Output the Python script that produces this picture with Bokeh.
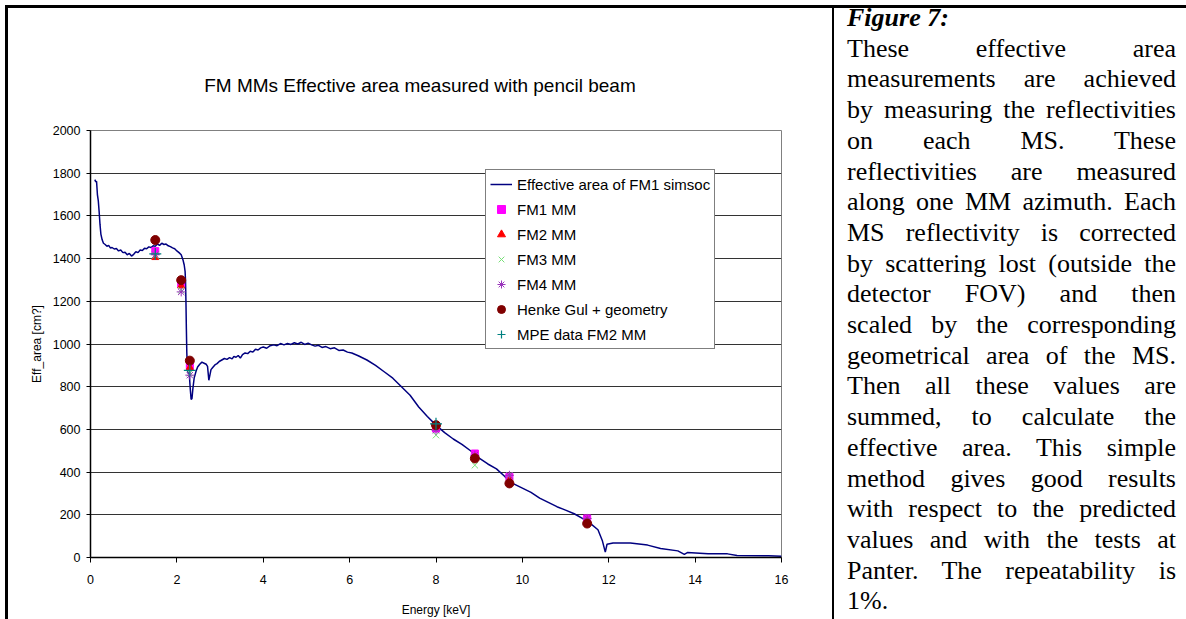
from bokeh.plotting import figure
from bokeh.models import Range1d, FixedTicker, Div
from bokeh.layouts import row, column
from bokeh.embed import file_html
from bokeh.resources import INLINE

TITLE = "FM MMs Effective area measured with pencil beam"
X_LABEL = "Energy [keV]"
Y_LABEL = "Eff_area [cm?]"
x_ticks = [0, 2, 4, 6, 8, 10, 12, 14, 16]
y_ticks = [0, 200, 400, 600, 800, 1000, 1200, 1400, 1600, 1800, 2000]

# Simulated effective area of FM1 (simsoc)
energy_kev = [
    0.10, 0.12, 0.14, 0.16, 0.18, 0.20, 0.22, 0.24, 0.27, 0.30,
    0.34, 0.38, 0.42, 0.46, 0.50, 0.55, 0.60, 0.65, 0.70, 0.75,
    0.80, 0.85, 0.90, 0.95, 1.00, 1.05, 1.10, 1.15, 1.20, 1.25,
    1.30, 1.35, 1.40, 1.45, 1.50, 1.55, 1.60, 1.65, 1.70, 1.75,
    1.80, 1.85, 1.90, 1.95, 2.00, 2.05, 2.10, 2.14, 2.17, 2.19,
    2.20, 2.21, 2.22, 2.23, 2.24, 2.25, 2.27, 2.29, 2.31, 2.33,
    2.35, 2.37, 2.40, 2.44, 2.48, 2.53, 2.58, 2.63, 2.68, 2.71,
    2.74, 2.76, 2.79, 2.83, 2.88, 2.93, 2.98, 3.04, 3.10, 3.16,
    3.22, 3.28, 3.32, 3.37, 3.42, 3.47, 3.52, 3.58, 3.64, 3.70,
    3.76, 3.82, 3.88, 3.94, 4.00, 4.08, 4.16, 4.24, 4.32, 4.40,
    4.48, 4.56, 4.64, 4.72, 4.80, 4.88, 4.96, 5.04, 5.12, 5.20,
    5.28, 5.36, 5.45, 5.55, 5.65, 5.75, 5.85, 5.95, 6.05, 6.20,
    6.40, 6.60, 6.80, 7.00, 7.20, 7.40, 7.60, 7.80, 8.00, 8.20,
    8.40, 8.60, 8.80, 9.00, 9.20, 9.40, 9.60, 9.80, 10.00, 10.20,
    10.40, 10.60, 10.80, 11.00, 11.20, 11.40, 11.60, 11.75, 11.85, 11.92,
    11.96, 12.10, 12.50, 12.90, 13.20, 13.60, 13.75, 13.82, 14.30, 14.75,
    14.97, 15.70, 16.00,
]
eff_area_simsoc = [
    1770, 1760, 1762, 1700, 1672, 1620, 1560, 1515, 1488, 1472,
    1466, 1458, 1462, 1450, 1452, 1445, 1447, 1436, 1440, 1428,
    1430, 1418, 1424, 1412, 1420, 1432, 1428, 1440, 1438, 1448,
    1446, 1455, 1452, 1460, 1458, 1468, 1462, 1472, 1466, 1468,
    1460, 1456, 1450, 1446, 1436, 1428, 1418, 1395, 1370, 1340,
    1300, 1200, 1070, 960, 900, 870, 862, 850, 790, 740,
    745, 790, 840, 870, 892, 905, 915, 910, 905, 895,
    830, 850, 880, 890, 902, 908, 918, 925, 932, 928,
    936, 930, 942, 938, 946, 934, 950, 958, 955, 966,
    962, 975, 972, 982, 986, 980, 992, 996, 992, 1002,
    996, 1002, 998, 1006, 1000, 1008, 998, 1004, 996, 990,
    994, 984, 988, 978, 982, 970, 972, 962, 958, 945,
    925, 900, 870, 840, 800, 760, 705, 660, 620, 585,
    555, 530, 500, 465, 438, 415, 378, 345, 325, 305,
    278, 258, 238, 222, 205, 182, 155, 130, 80, 25,
    62, 68, 68, 58, 42, 31, 15, 23, 17, 17,
    9, 8, 6,
]

# Measured points
meas_energy_kev = [1.5, 2.1, 2.3, 8.0, 8.9, 9.7, 11.5]
fm1_mm = [1435, 1280, 898, 604, 487, 378, 183]
fm2_mm = [1405, 1272, 890, 612, 471, 362, 172]
fm3_mm = [1415, 1252, 863, 573, 432, 385, 170]
fm4_mm = [1418, 1244, 854, 596, 479, 385, 183]
henke_geom = [1487, 1299, 922, 620, 464, 347, 159]
mpe_energy_kev = [1.5, 2.3, 8.0]
mpe_fm2_mm = [1422, 876, 626]

caption_head = "Figure 7:"
caption_lines = [
    "These effective area",
    "measurements are achieved",
    "by measuring the reflectivities",
    "on each MS. These",
    "reflectivities are measured",
    "along one MM azimuth. Each",
    "MS reflectivity is corrected",
    "by scattering lost (outside the",
    "detector FOV) and then",
    "scaled by the corresponding",
    "geometrical area of the MS.",
    "Then all these values are",
    "summed, to calculate the",
    "effective area. This simple",
    "method gives good results",
    "with respect to the predicted",
    "values and with the tests at",
    "Panter. The repeatability is",
]
caption_last = "1%."

FONT = "Liberation Sans"

p = figure(width=824, height=511, x_range=Range1d(0, 16), y_range=Range1d(0, 2000),
           output_backend="svg", toolbar_location=None, margin=0,
           min_border_left=82, min_border_right=51, min_border_top=22, min_border_bottom=62)
p.background_fill_color = "white"
p.border_fill_color = "white"
p.outline_line_color = "#808080"
p.outline_line_width = 1

p.xaxis.ticker = FixedTicker(ticks=x_ticks)
p.yaxis.ticker = FixedTicker(ticks=y_ticks)
p.xgrid.visible = False
p.ygrid.ticker = FixedTicker(ticks=y_ticks)
p.ygrid.grid_line_color = "#333333"
p.ygrid.grid_line_width = 1

for ax in (p.xaxis, p.yaxis):
    ax.axis_line_color = "black"
    ax.axis_line_width = 1.5
    ax.major_tick_line_color = "black"
    ax.major_tick_in = 0
    ax.minor_tick_line_color = None
    ax.major_label_text_font = FONT
    ax.major_label_text_font_size = "12.5px"
    ax.major_label_text_color = "black"
    ax.axis_label_text_font = FONT
    ax.axis_label_text_font_size = "12px"
    ax.axis_label_text_font_style = "normal"
    ax.axis_label_text_color = "black"

p.xaxis.major_tick_out = 5
p.yaxis.major_tick_out = 4
p.xaxis.major_label_standoff = 12
p.yaxis.major_label_standoff = 6
p.xaxis.axis_label = X_LABEL
p.yaxis.axis_label = Y_LABEL
p.xaxis.axis_label_standoff = 16
p.yaxis.axis_label_standoff = 6

p.line(energy_kev, eff_area_simsoc, line_color="#000080", line_width=1.5,
       legend_label="Effective area of FM1 simsoc")
p.scatter(meas_energy_kev, fm1_mm, marker="square", size=7,
          fill_color="#FF00FF", line_color="#FF00FF", legend_label="FM1 MM")
p.scatter(meas_energy_kev, fm2_mm, marker="triangle", size=7,
          fill_color="#FF0000", line_color="#FF0000", legend_label="FM2 MM")
p.scatter(meas_energy_kev, fm3_mm, marker="x", size=9,
          line_color="#77E077", line_width=1, legend_label="FM3 MM")
p.scatter(meas_energy_kev, fm4_mm, marker="asterisk", size=9,
          line_color="#9933BB", line_width=1, legend_label="FM4 MM")
p.scatter(meas_energy_kev, henke_geom, marker="circle", size=9,
          fill_color="#800000", line_color="#800000", legend_label="Henke Gul + geometry")
p.scatter(mpe_energy_kev, mpe_fm2_mm, marker="cross", size=12,
          line_color="#008080", line_width=1.2, legend_label="MPE data FM2 MM")

lg = p.legend[0]
lg.location = (395, 208)
lg.label_text_font = FONT
lg.label_text_font_size = "15px"
lg.label_text_color = "black"
lg.border_line_color = "black"
lg.border_line_width = 1
lg.background_fill_color = "white"
lg.background_fill_alpha = 1
lg.padding = 4
lg.spacing = 5
lg.margin = 0
lg.glyph_width = 22
lg.glyph_height = 20
lg.label_height = 20
lg.label_standoff = 5

title_html = (
    '<div style="width:824px;text-align:center;padding-top:67px;'
    "font-family:'Liberation Sans',Arial,sans-serif;font-size:19px;line-height:22px;"
    'color:#000;white-space:nowrap;">%s</div>' % TITLE
)
title_div = Div(text=title_html, width=824, height=100, margin=0)

body = "".join('<div style="text-align:justify;text-align-last:justify;">%s</div>' % t
               for t in caption_lines)
html = (
    '<div style="border-left:2px solid #000;height:611px;box-sizing:border-box;">'
    '<div style="position:relative;top:-5px;margin-left:13px;width:329px;'
    "font-family:'Liberation Serif','Times New Roman',serif;font-size:26px;"
    'line-height:30.7px;color:#000;">'
    '<div style="font-weight:bold;font-style:italic;">%s</div>%s<div>%s</div>'
    '</div></div>' % (caption_head, body, caption_last)
)
div = Div(text=html, width=354, height=611, margin=0)

left = column(title_div, p, margin=0)
root = row(left, div, margin=(5, 0, 0, 5),
           styles={"border-top": "3px solid #000", "border-left": "3px solid #000"})

open("out.html", "w").write(file_html(root, INLINE))
